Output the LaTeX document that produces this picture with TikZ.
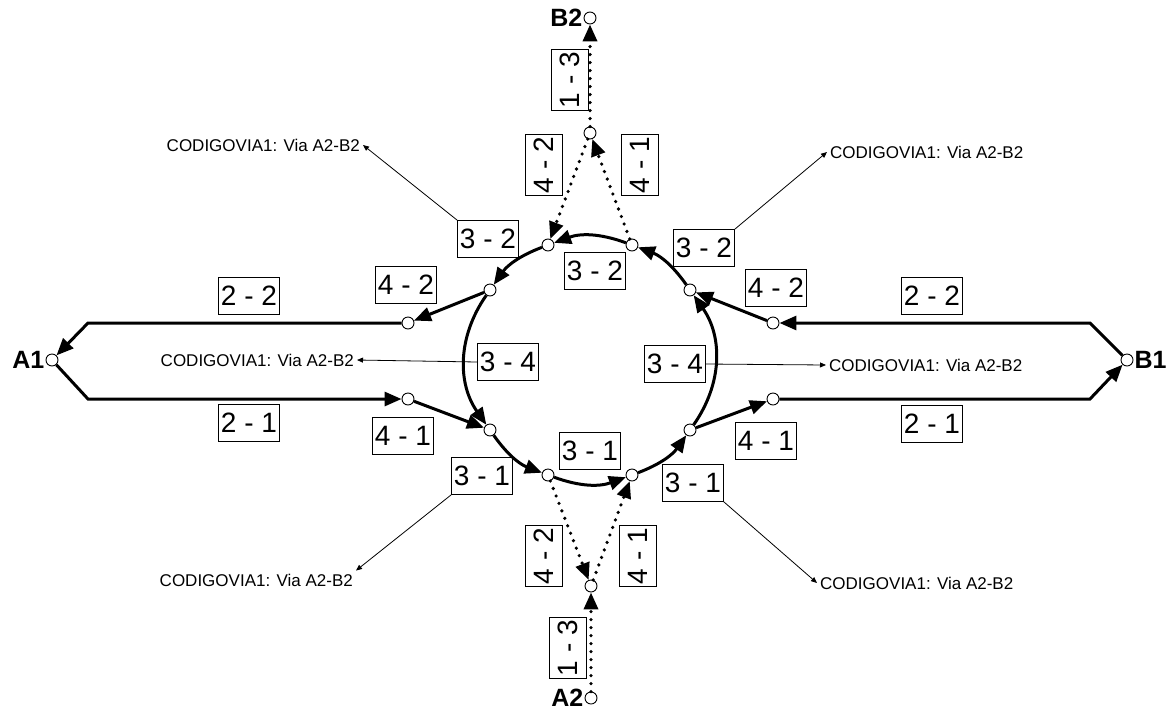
\documentclass[tikz,border=0pt]{standalone}
\usepackage{fontspec}
\setmainfont{Liberation Sans}
\usetikzlibrary{arrows.meta}

\begin{document}
\begin{tikzpicture}[x=1pt, y=-1pt,
    pt/.style={circle, draw, line width=0.9pt, fill=white, minimum size=12pt, inner sep=0pt},
    lbl/.style={draw, line width=0.7pt, font=\fontsize{28}{28}\selectfont, minimum width=61pt, minimum height=37pt, inner sep=1pt},
    vlbl/.style={lbl, rotate=90},
    via/.style={font=\fontsize{17}{17}\selectfont, inner sep=3pt},
    nome/.style={font=\bfseries\fontsize{25}{25}\selectfont, inner sep=1pt},
    rd/.style={line width=3pt, -{Triangle[length=17pt,width=14pt]}},
    dt/.style={line width=3.6pt, line cap=round, dash pattern=on 0pt off 8pt, -{Triangle[length=17pt,width=14pt]}},
    ld/.style={line width=0.8pt, -{Triangle[length=6pt,width=5pt]}}]
  \useasboundingbox (0,0) rectangle (1170,710);
  \node[pt] (b2) at (590,18) {};
  \node[pt] (t) at (590,133) {};
  \node[pt] (tr) at (632,245) {};
  \node[pt] (tl) at (548,245) {};
  \node[pt] (ur) at (690,290) {};
  \node[pt] (ul) at (490,290) {};
  \node[pt] (ll) at (490,430) {};
  \node[pt] (lr) at (690,430) {};
  \node[pt] (bl) at (548,475) {};
  \node[pt] (br) at (632,475) {};
  \node[pt] (bt) at (591,586) {};
  \node[pt] (a2) at (591,698) {};
  \node[pt] (a1) at (52,360) {};
  \node[pt] (b1) at (1127,360) {};
  \node[pt] (oul) at (408,323) {};
  \node[pt] (oll) at (408,399) {};
  \node[pt] (our) at (773,323) {};
  \node[pt] (olr) at (773,399) {};
  \coordinate (cul) at (88,323);
  \coordinate (cll) at (88,399);
  \coordinate (cur) at (1090,323);
  \coordinate (clr) at (1090,399);
  \node[nome, anchor=east] (b2t) at (b2.west) {B2};
  \node[nome, anchor=east] (a2t) at (a2.west) {A2};
  \node[nome, anchor=east] (a1t) at (a1.west) {A1};
  \node[nome, anchor=west] (b1t) at (b1.east) {B1};
  \draw[rd] (ur) to[bend right=17] (tr);
  \draw[rd] (tr) to[bend right=20] (tl);
  \draw[rd] (tl) to[bend right=17] (ul);
  \draw[rd] (ul) to[bend right=35] (ll);
  \draw[rd] (ll) to[bend right=17] (bl);
  \draw[rd] (bl) to[bend right=20] (br);
  \draw[rd] (br) to[bend right=17] (lr);
  \draw[rd] (lr) to[bend right=35] (ur);
  \draw[rd] (our) to (ur);
  \draw[rd] (ul) to (oul);
  \draw[rd] (oll) to (ll);
  \draw[rd] (lr) to (olr);
  \draw[rd] (b1) -- (cur) -- (our);
  \draw[rd] (oul) -- (cul) -- (a1);
  \draw[rd] (a1) -- (cll) -- (oll);
  \draw[rd] (olr) -- (clr) -- (b1);
  \draw[dt] (tr) to (t);
  \draw[dt] (t) to (tl);
  \draw[dt] (t) to (b2);
  \draw[dt] (a2) to (bt);
  \draw[dt] (bl) to (bt);
  \draw[dt] (bt) to (br);
  \node[vlbl] (l13a) at (570,80) {1 - 3};
  \node[vlbl] (l42a) at (544,165) {4 - 2};
  \node[vlbl] (l41a) at (640,165) {4 - 1};
  \node[lbl] (l32a) at (488,239) {3 - 2};
  \node[lbl] (l32b) at (595,271) {3 - 2};
  \node[lbl] (l32c) at (704,248) {3 - 2};
  \node[lbl] (l42b) at (406,285) {4 - 2};
  \node[lbl] (l42c) at (776,288) {4 - 2};
  \node[lbl] (l22a) at (249,296) {2 - 2};
  \node[lbl] (l22b) at (932,296) {2 - 2};
  \node[lbl] (l34a) at (508,362) {3 - 4};
  \node[lbl] (l34b) at (675,364) {3 - 4};
  \node[lbl] (l21a) at (249,423) {2 - 1};
  \node[lbl] (l21b) at (932,424) {2 - 1};
  \node[lbl] (l41b) at (403,436) {4 - 1};
  \node[lbl] (l41c) at (766,441) {4 - 1};
  \node[lbl] (l31a) at (482,476) {3 - 1};
  \node[lbl] (l31b) at (590,451) {3 - 1};
  \node[lbl] (l31c) at (693,483) {3 - 1};
  \node[vlbl] (l42d) at (544,556) {4 - 2};
  \node[vlbl] (l41d) at (638,556) {4 - 1};
  \node[vlbl] (l13b) at (568,648) {1 - 3};
  \node[via, anchor=east] (v1) at (363,145) {CODIGOVIA1: Via A2-B2};
  \node[via, anchor=west] (v2) at (827,152) {CODIGOVIA1: Via A2-B2};
  \node[via, anchor=east] (v3) at (357,360) {CODIGOVIA1: Via A2-B2};
  \node[via, anchor=west] (v4) at (826,365) {CODIGOVIA1: Via A2-B2};
  \node[via, anchor=east] (v5) at (356,580) {CODIGOVIA1: Via A2-B2};
  \node[via, anchor=west] (v6) at (817,583) {CODIGOVIA1: Via A2-B2};
  \draw[ld] (l32a.north west) to (v1.east);
  \draw[ld] (l32c.north east) to (v2.west);
  \draw[ld] (l34a.west) to (v3.east);
  \draw[ld] (l34b.east) to (v4.west);
  \draw[ld] (l31a.south west) to (v5.north east);
  \draw[ld] (l31c.south east) to (v6.west);
\end{tikzpicture}
\end{document}
